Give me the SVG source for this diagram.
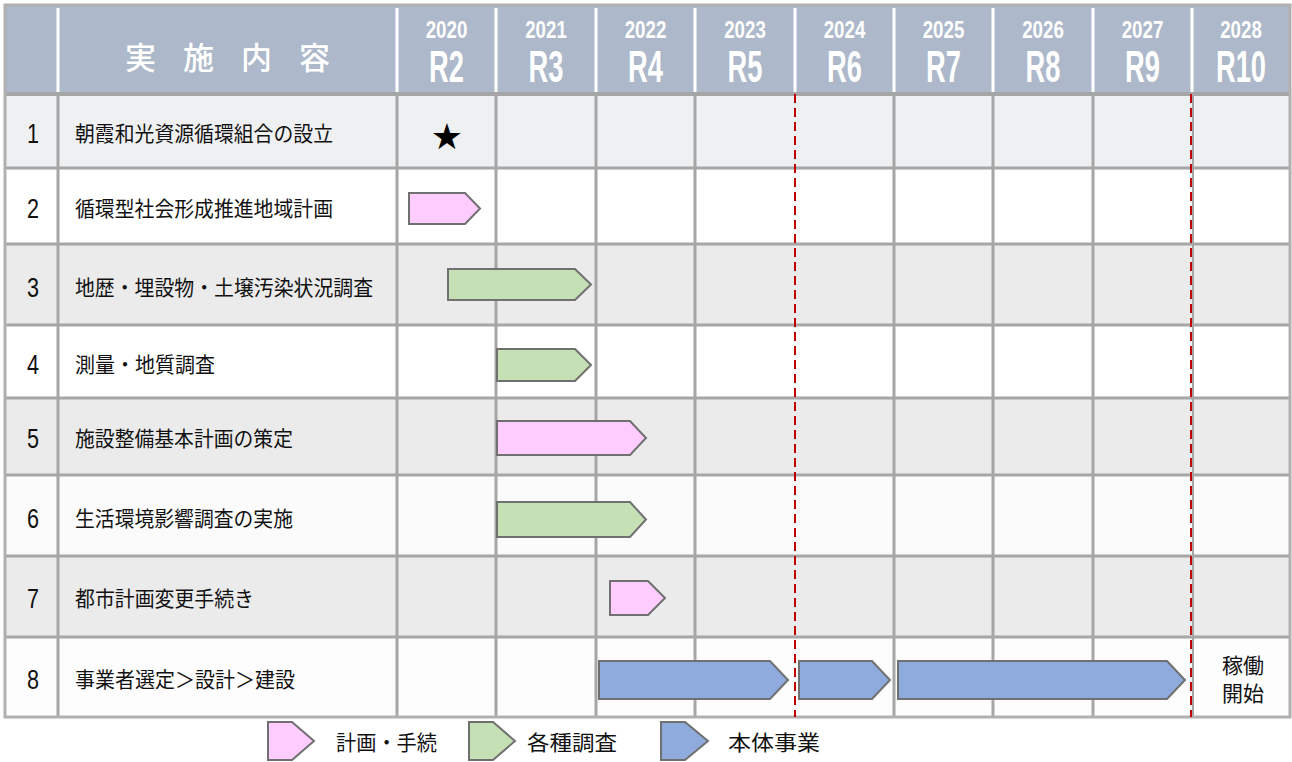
<svg xmlns="http://www.w3.org/2000/svg" width="1292" height="762" viewBox="0 0 1292 762">
<style>
.hdr{fill:#adb9ca}
.sep{stroke:#ffffff;stroke-width:3}
.grid{stroke:#a6a6a6;stroke-width:3;fill:none}
.num{font-family:"Liberation Sans",Arial,sans-serif;font-size:27px;fill:#111111;text-anchor:middle}
.lbl{font-family:"Noto Sans CJK JP","Noto Sans CJK SC",sans-serif;font-size:21px;fill:#111111}
.yr{font-family:"Liberation Sans",Arial,sans-serif;font-size:24px;font-weight:bold;fill:#ffffff;text-anchor:middle}
.rw{font-family:"Liberation Sans",Arial,sans-serif;font-size:44px;font-weight:bold;fill:#ffffff;text-anchor:middle}
.ttl{font-family:"Noto Sans CJK JP","Noto Sans CJK SC",sans-serif;font-size:31px;font-weight:500;fill:#ffffff;letter-spacing:27px}
.pink{fill:#ffccff;stroke:#707070;stroke-width:2}
.green{fill:#c5e0b4;stroke:#707070;stroke-width:2}
.blue{fill:#8faadc;stroke:#707070;stroke-width:2}
.due{stroke:#c00000;stroke-width:2;stroke-dasharray:9 5;fill:none}
.odd{fill:#ebebeb}
.even{fill:#ffffff}
</style>

<!-- row backgrounds -->
<g id="backgrounds">
  <rect x="5" y="94" width="1285" height="74" fill="#eff0f2"/>
  <rect x="5" y="168" width="1285" height="76" class="even"/>
  <rect x="5" y="244" width="1285" height="81" class="odd"/>
  <rect x="5" y="325" width="1285" height="73" class="even"/>
  <rect x="5" y="398" width="1285" height="77" class="odd"/>
  <rect x="5" y="475" width="1285" height="81" fill="#fbfbfb"/>
  <rect x="5" y="556" width="1285" height="81" class="odd"/>
  <rect x="5" y="637" width="1285" height="80" fill="#fdfdfd"/>
</g>

<!-- header -->
<g id="header">
  <rect x="5" y="6" width="1285" height="88" class="hdr"/>
  <g>
    <line x1="58" y1="8" x2="58" y2="92" class="sep"/>
    <line x1="397" y1="8" x2="397" y2="92" class="sep"/>
    <line x1="496" y1="8" x2="496" y2="92" class="sep"/>
    <line x1="596" y1="8" x2="596" y2="92" class="sep"/>
    <line x1="695" y1="8" x2="695" y2="92" class="sep"/>
    <line x1="795" y1="8" x2="795" y2="92" class="sep"/>
    <line x1="894" y1="8" x2="894" y2="92" class="sep"/>
    <line x1="993" y1="8" x2="993" y2="92" class="sep"/>
    <line x1="1093" y1="8" x2="1093" y2="92" class="sep"/>
    <line x1="1192" y1="8" x2="1192" y2="92" class="sep"/>
  </g>
  <text class="ttl" x="125" y="69">実施内容</text>
  <text class="yr" transform="translate(446.5 38) scale(0.78 1)">2020</text>
  <text class="rw" transform="translate(446.5 82) scale(0.62 1)">R2</text>
  <text class="yr" transform="translate(546 38) scale(0.78 1)">2021</text>
  <text class="rw" transform="translate(546 82) scale(0.62 1)">R3</text>
  <text class="yr" transform="translate(645.5 38) scale(0.78 1)">2022</text>
  <text class="rw" transform="translate(645.5 82) scale(0.62 1)">R4</text>
  <text class="yr" transform="translate(745 38) scale(0.78 1)">2023</text>
  <text class="rw" transform="translate(745 82) scale(0.62 1)">R5</text>
  <text class="yr" transform="translate(844.5 38) scale(0.78 1)">2024</text>
  <text class="rw" transform="translate(844.5 82) scale(0.62 1)">R6</text>
  <text class="yr" transform="translate(943.5 38) scale(0.78 1)">2025</text>
  <text class="rw" transform="translate(943.5 82) scale(0.62 1)">R7</text>
  <text class="yr" transform="translate(1043 38) scale(0.78 1)">2026</text>
  <text class="rw" transform="translate(1043 82) scale(0.62 1)">R8</text>
  <text class="yr" transform="translate(1142.5 38) scale(0.78 1)">2027</text>
  <text class="rw" transform="translate(1142.5 82) scale(0.62 1)">R9</text>
  <text class="yr" transform="translate(1241 38) scale(0.78 1)">2028</text>
  <text class="rw" transform="translate(1241 82) scale(0.62 1)">R10</text>
</g>

<!-- grid -->
<g id="grid" class="grid">
  <line x1="5" y1="94" x2="1290" y2="94" stroke-width="4"/>
  <line x1="5" y1="168" x2="1290" y2="168"/>
  <line x1="5" y1="244" x2="1290" y2="244"/>
  <line x1="5" y1="325" x2="1290" y2="325"/>
  <line x1="5" y1="398" x2="1290" y2="398"/>
  <line x1="5" y1="475" x2="1290" y2="475"/>
  <line x1="5" y1="556" x2="1290" y2="556"/>
  <line x1="5" y1="637" x2="1290" y2="637"/>
  <line x1="58" y1="94" x2="58" y2="717"/>
  <line x1="397" y1="94" x2="397" y2="717"/>
  <line x1="496" y1="94" x2="496" y2="717"/>
  <line x1="596" y1="94" x2="596" y2="717"/>
  <line x1="695" y1="94" x2="695" y2="717"/>
  <line x1="894" y1="94" x2="894" y2="717"/>
  <line x1="993" y1="94" x2="993" y2="717"/>
  <line x1="1093" y1="94" x2="1093" y2="717"/>
  <line x1="1193" y1="94" x2="1193" y2="717" stroke-width="2"/>
  <rect x="5" y="5" width="1285" height="712" stroke="#b0b0b0"/>
</g>

<!-- connectors: milestone dashed lines -->
<g id="connectors">
  <line x1="795" y1="94" x2="795" y2="717" class="due"/>
  <line x1="1191" y1="94" x2="1191" y2="717" class="due"/>
</g>

<!-- rows -->
<g id="row-1">
  <text class="num" transform="translate(33 143) scale(0.8 1)">1</text>
  <text class="lbl" x="75" y="141" textLength="258" lengthAdjust="spacingAndGlyphs">朝霞和光資源循環組合の設立</text>
  <text x="447" y="149" font-family="DejaVu Sans,sans-serif" font-size="36" text-anchor="middle" fill="#000000">★</text>
</g>
<g id="row-2">
  <text class="num" transform="translate(33 218) scale(0.8 1)">2</text>
  <text class="lbl" x="75" y="216" textLength="258" lengthAdjust="spacingAndGlyphs">循環型社会形成推進地域計画</text>
  <polygon class="pink" points="409,193 465,193 480,208.5 465,224 409,224"/>
</g>
<g id="row-3">
  <text class="num" transform="translate(33 297) scale(0.8 1)">3</text>
  <text class="lbl" x="75" y="295" textLength="298" lengthAdjust="spacingAndGlyphs">地歴・埋設物・土壌汚染状況調査</text>
  <polygon class="green" points="448,269 575,269 591,284.5 575,300 448,300"/>
</g>
<g id="row-4">
  <text class="num" transform="translate(33 374) scale(0.8 1)">4</text>
  <text class="lbl" x="75" y="372" textLength="140" lengthAdjust="spacingAndGlyphs">測量・地質調査</text>
  <polygon class="green" points="497,349 575,349 591,365 575,381 497,381"/>
</g>
<g id="row-5">
  <text class="num" transform="translate(33 448) scale(0.8 1)">5</text>
  <text class="lbl" x="75" y="446" textLength="218" lengthAdjust="spacingAndGlyphs">施設整備基本計画の策定</text>
  <polygon class="pink" points="497,421 630,421 646,438 630,455 497,455"/>
</g>
<g id="row-6">
  <text class="num" transform="translate(33 528) scale(0.8 1)">6</text>
  <text class="lbl" x="75" y="526" textLength="218" lengthAdjust="spacingAndGlyphs">生活環境影響調査の実施</text>
  <polygon class="green" points="497,502 630,502 646,519.5 630,537 497,537"/>
</g>
<g id="row-7">
  <text class="num" transform="translate(33 608) scale(0.8 1)">7</text>
  <text class="lbl" x="75" y="606" textLength="179" lengthAdjust="spacingAndGlyphs">都市計画変更手続き</text>
  <polygon class="pink" points="610,581 648,581 665,598 648,615 610,615"/>
</g>
<g id="row-8">
  <text class="num" transform="translate(33 689) scale(0.8 1)">8</text>
  <text class="lbl" x="75" y="687" textLength="220" lengthAdjust="spacingAndGlyphs">事業者選定＞設計＞建設</text>
  <polygon class="blue" points="599,661 770,661 788,680 770,699 599,699"/>
  <polygon class="blue" points="799,661 872,661 890,680 872,699 799,699"/>
  <polygon class="blue" points="898,661 1167,661 1185,680 1167,699 898,699"/>
  <text class="lbl" x="1243" y="673" font-size="19" text-anchor="middle">稼働</text>
  <text class="lbl" x="1243" y="701" font-size="19" text-anchor="middle">開始</text>
</g>

<!-- legend -->
<g id="legend">
  <polygon class="pink" points="268,722 292,722 314,741 292,760 268,760"/>
  <text class="lbl" x="336" y="750" textLength="101" lengthAdjust="spacingAndGlyphs">計画・手続</text>
  <polygon class="green" points="469,722 493,722 515,741 493,760 469,760"/>
  <text class="lbl" x="527" y="750" textLength="90" lengthAdjust="spacingAndGlyphs">各種調査</text>
  <polygon class="blue" points="661,722 685,722 708,741 685,760 661,760"/>
  <text class="lbl" x="728" y="750" textLength="92" lengthAdjust="spacingAndGlyphs">本体事業</text>
</g>
</svg>
